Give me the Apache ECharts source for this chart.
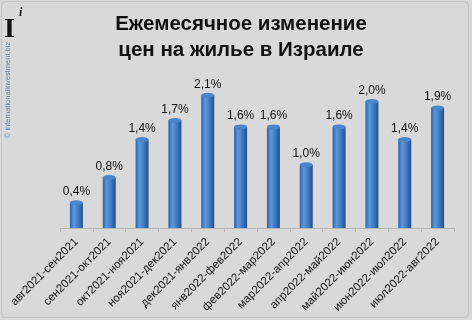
<!DOCTYPE html>
<html><head><meta charset="utf-8">
<script src="https://cdn.jsdelivr.net/npm/echarts@6/dist/echarts.min.js"></script>
<style>html,body{margin:0;padding:0;background:#d9d9d9}#c{width:472px;height:320px}</style>
</head><body><div id="c"></div>
<script>
const categories = ['авг2021-сен2021','сен2021-окт2021','окт2021-ноя2021','ноя2021-дек2021','дек2021-янв2022','янв2022-фев2022','фев2022-мар2022','мар2022-апр2022','апр2022-май2022','май2022-июн2022','июн2022-июл2022','июл2022-авг2022'];
const values = [0.4, 0.8, 1.4, 1.7, 2.1, 1.6, 1.6, 1.0, 1.6, 2.0, 1.4, 1.9];
const titleText = 'Ежемесячное изменение\nцен на жилье в Израиле';

const chart = echarts.init(document.getElementById('c'), null, {renderer:'canvas'});
chart.setOption({
  backgroundColor: '#d9d9d9',
  animation: false,
  title: {
    text: titleText, left: 236, top: 6, textAlign: 'center',
    textStyle: {fontFamily: 'Liberation Sans', fontWeight: 'bold', fontSize: 20.5, lineHeight: 26, color: '#111'}
  },
  graphic: [
    {type:'rect', shape:{x:1.5,y:1.5,width:467,height:316,r:4}, style:{fill:'none', stroke:'#c4c4c4', lineWidth:1}, silent:true},
    {type:'text', left:4, top:16, style:{text:'I', font:'bold 28px "Liberation Serif"', fill:'#111'}},
    {type:'text', left:19, top:7, style:{text:'i', font:'italic bold 12px "Liberation Serif"', fill:'#111'}},
    {type:'text', x:8, y:90, rotation:Math.PI/2, style:{text:'© internationalinvestment.biz', font:'7.5px "Liberation Sans"', fill:'#5a84b5', align:'center', verticalAlign:'middle'}}
  ],
  grid: {left: 60, right: 18, top: 70, bottom: 92},
  xAxis: {
    type: 'category', data: categories,
    axisLine: {lineStyle: {color: '#b5b5b5'}},
    axisTick: {show: true, alignWithLabel: false, length: 4, lineStyle: {color: '#b5b5b5'}},
    axisLabel: {rotate: 45, interval: 0, margin: 12, fontFamily: 'Liberation Sans', fontSize: 11.5, color: '#111'}
  },
  yAxis: {type: 'value', min: 0, max: 2.5, show: false, splitLine: {show: false}},
  series: [
    {
      type: 'bar', data: values, barWidth: 13,
      itemStyle: {color: new echarts.graphic.LinearGradient(0,0,1,0,[
        {offset:0,color:'#2d62a6'},{offset:0.3,color:'#5c98dc'},{offset:0.65,color:'#3b7ac4'},{offset:1,color:'#244f8a'}])},
      label: {show: true, position: 'top', distance: 5, formatter: p => p.value.toFixed(1).replace('.', ',') + '%',
        fontFamily: 'Liberation Sans', fontSize: 12, color: '#111'},
      z: 2
    },
    {
      type: 'pictorialBar', data: values, symbol: 'circle', symbolSize: [13, 5],
      symbolPosition: 'end', symbolOffset: [0, '-50%'],
      itemStyle: {color: '#4a86cc'}, z: 3, silent: true
    }
  ]
});
</script></body></html>
